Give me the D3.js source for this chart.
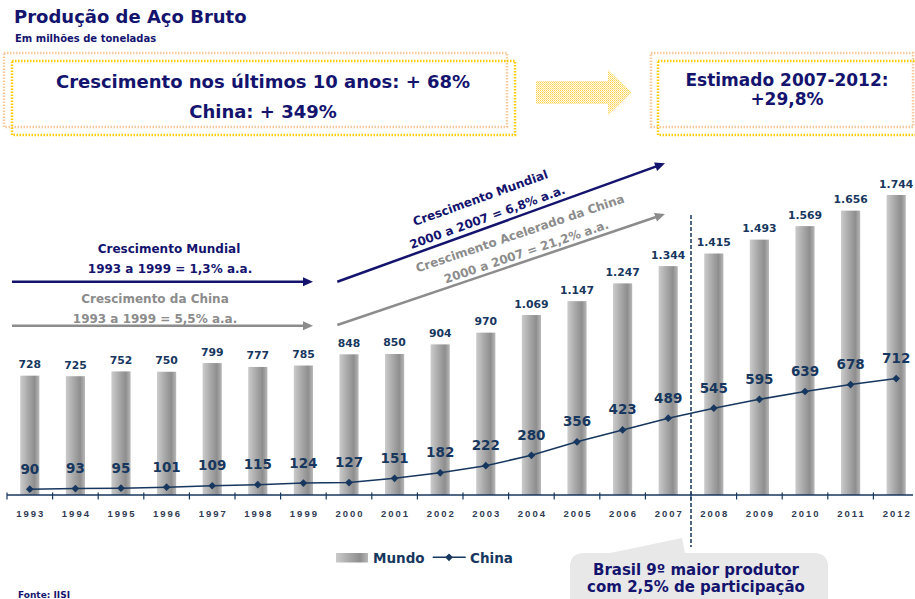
<!DOCTYPE html>
<html>
<head>
<meta charset="utf-8">
<script src="https://cdn.jsdelivr.net/npm/d3@7"></script>
<style>
  html, body { margin: 0; padding: 0; background: #fff; }
  svg { display: block; }
  text { font-family: "DejaVu Sans", Verdana, sans-serif; font-weight: bold; }
</style>
</head>
<body>
<svg id="chart" width="915" height="599"></svg>
<script>
// data
var years = ["1993","1994","1995","1996","1997","1998","1999","2000","2001","2002",
             "2003","2004","2005","2006","2007","2008","2009","2010","2011","2012"];
var mundo = [728,725,752,750,799,777,785,848,850,904,970,1069,1147,1247,1344,1415,1493,1569,1656,1744];
var china = [90,93,95,101,109,115,124,127,151,182,222,280,356,423,489,545,595,639,678,712];
var seriesNames = ["Mundo", "China"];
var forecastFrom = "2008";

var navy = "#14146e";
var steel = "#17375e";
var grey = "#8c8c8c";

var svg = d3.select("#chart");
var defs = svg.append("defs");

// bar gradient
var grad = defs.append("linearGradient").attr("id", "barGrad")
    .attr("x1", "0%").attr("x2", "100%").attr("y1", "0%").attr("y2", "0%");
grad.append("stop").attr("offset", "0%").attr("stop-color", "#cbcbcb");
grad.append("stop").attr("offset", "40%").attr("stop-color", "#a9a9a9");
grad.append("stop").attr("offset", "75%").attr("stop-color", "#8e8e8e");
grad.append("stop").attr("offset", "100%").attr("stop-color", "#b8b8b8");

// dotted fill for the big arrow
var pat = defs.append("pattern").attr("id", "dots")
    .attr("width", 2).attr("height", 2).attr("patternUnits", "userSpaceOnUse");
pat.append("rect").attr("width", 2).attr("height", 2).attr("fill", "#fffbe8");
pat.append("rect").attr("width", 1).attr("height", 1).attr("fill", "#ffd24d");
pat.append("rect").attr("x", 1).attr("y", 1).attr("width", 1).attr("height", 1).attr("fill", "#ffe08a");

//-------------------------------
// header
svg.append("text").attr("x", 14).attr("y", 23).attr("font-size", 18).attr("fill", navy)
    .text("Produção de Aço Bruto");
svg.append("text").attr("x", 15).attr("y", 42).attr("font-size", 10).attr("fill", navy)
    .text("Em milhões de toneladas");

function dottedBox(x, y, w, h, color) {
  svg.append("rect").attr("x", x).attr("y", y).attr("width", w).attr("height", h)
      .attr("fill", "none").attr("stroke", color).attr("stroke-width", 2.5)
      .attr("stroke-dasharray", "1.5 1.5");
}
dottedBox(4, 53, 503, 74, "#f9c99e");
dottedBox(12, 61, 503, 74, "#ffcc00");
dottedBox(651, 53, 262, 74, "#f9c99e");
dottedBox(658, 61, 275, 74, "#ffcc00");

svg.append("text").attr("x", 263).attr("y", 88).attr("text-anchor", "middle")
    .attr("font-size", 18).attr("fill", navy).text("Crescimento nos últimos 10 anos: + 68%");
svg.append("text").attr("x", 263).attr("y", 118).attr("text-anchor", "middle")
    .attr("font-size", 18).attr("fill", navy).text("China: + 349%");
svg.append("text").attr("x", 787).attr("y", 86).attr("text-anchor", "middle")
    .attr("font-size", 17).attr("fill", navy).text("Estimado 2007-2012:");
svg.append("text").attr("x", 787).attr("y", 104.5).attr("text-anchor", "middle")
    .attr("font-size", 17).attr("fill", navy).text("+29,8%");

svg.append("path")
    .attr("d", "M536,81L608,81L608,70L632,92.5L608,115L608,104L536,104Z")
    .attr("fill", "url(#dots)");

//-------------------------------
// scales
var x = d3.scaleBand().domain(years).range([7, 919]).paddingInner(0).paddingOuter(0);
var axisY = 495;
var y = d3.scaleLinear().domain([57, 1744]).range([axisY, 195]);
var barW = x.bandwidth() * 0.42;
var fmt = d3.formatLocale({decimal: ",", thousands: ".", grouping: [3], currency: ["", ""]}).format(",d");

// bars
var rows = years.map(function(yr, i) { return {year: yr, mundo: mundo[i], china: china[i]}; });

svg.append("g").selectAll("rect").data(rows).enter().append("rect")
    .attr("x", function(d) { return x(d.year) + (x.bandwidth() - barW) / 2; })
    .attr("y", function(d) { return y(d.mundo); })
    .attr("width", barW)
    .attr("height", function(d) { return axisY - y(d.mundo); })
    .attr("fill", "url(#barGrad)");

svg.append("g").selectAll("text").data(rows).enter().append("text")
    .attr("x", function(d) { return x(d.year) + x.bandwidth() / 2; })
    .attr("y", function(d) { return y(d.mundo) - 7.5; })
    .attr("text-anchor", "middle").attr("font-size", 10.8).attr("fill", steel)
    .text(function(d) { return fmt(d.mundo); });

// x axis
var axis = svg.append("g");
axis.append("line").attr("x1", 7).attr("x2", 913).attr("y1", axisY).attr("y2", axisY)
    .attr("stroke", steel).attr("stroke-width", 1.5);
var bounds = d3.range(years.length + 1).map(function(i) { return 7 + i * x.step(); });
axis.selectAll(".tk").data(bounds).enter().append("line")
    .attr("x1", function(d) { return d; }).attr("x2", function(d) { return d; })
    .attr("y1", axisY - 2.5).attr("y2", axisY + 4.5)
    .attr("stroke", steel).attr("stroke-width", 1.2);
axis.selectAll(".yl").data(years).enter().append("text")
    .attr("x", function(d) { return x(d) + x.bandwidth() / 2 + 1; })
    .attr("y", 517)
    .attr("text-anchor", "middle")
    .style("font-family", "'Liberation Sans', Arial, sans-serif")
    .style("letter-spacing", "2px")
    .attr("font-size", 9.5).attr("fill", "#2f3b52")
    .text(function(d) { return d; });

// dashed divider between real and estimated
var divX = x(forecastFrom);
svg.append("line").attr("x1", divX).attr("x2", divX).attr("y1", 215).attr("y2", 547)
    .attr("stroke", steel).attr("stroke-width", 1.5).attr("stroke-dasharray", "4 2");

// china line
var line = d3.line()
    .x(function(d) { return x(d.year) + x.bandwidth() / 2; })
    .y(function(d) { return y(d.china); });
svg.append("path").datum(rows).attr("d", line)
    .attr("fill", "none").attr("stroke", steel).attr("stroke-width", 1.5);

var diamond = d3.symbol().type(d3.symbolSquare).size(30);
svg.append("g").selectAll("path").data(rows).enter().append("path")
    .attr("d", diamond)
    .attr("transform", function(d) {
      return "translate(" + (x(d.year) + x.bandwidth() / 2) + "," + y(d.china) + ") rotate(45)";
    })
    .attr("fill", steel);

svg.append("g").selectAll("text").data(rows).enter().append("text")
    .attr("x", function(d) { return x(d.year) + x.bandwidth() / 2; })
    .attr("y", function(d) { return y(d.china) - 15.5; })
    .attr("text-anchor", "middle").attr("font-size", 13.5).attr("fill", steel)
    .text(function(d) { return d.china; });

//-------------------------------
// growth arrows
function arrow(x1, y1, x2, y2, color) {
  var ang = Math.atan2(y2 - y1, x2 - x1);
  var ca = Math.cos(ang), sa = Math.sin(ang);
  svg.append("line").attr("x1", x1).attr("y1", y1)
      .attr("x2", x2 - 7 * ca).attr("y2", y2 - 7 * sa)
      .attr("stroke", color).attr("stroke-width", 2.5);
  var bx = x2 - 10 * ca, by = y2 - 10 * sa;
  svg.append("path")
      .attr("d", "M" + x2 + "," + y2 + "L" + (bx - 4.5 * sa) + "," + (by + 4.5 * ca) +
                 "L" + (bx + 4.5 * sa) + "," + (by - 4.5 * ca) + "Z")
      .attr("fill", color);
  return ang * 180 / Math.PI;
}

function label(x0, y0, ang, along, lines, color) {
  var g = svg.append("g").attr("transform", "translate(" + x0 + "," + y0 + ") rotate(" + ang + ")");
  lines.forEach(function(l) {
    g.append("text").attr("x", along).attr("y", l[1]).attr("text-anchor", "middle")
        .attr("font-size", 12).attr("fill", color).text(l[0]);
  });
}

arrow(12, 281.7, 313, 281.7, navy);
arrow(12, 325.7, 313, 325.7, grey);
svg.append("text").attr("x", 169).attr("y", 252.7).attr("text-anchor", "middle")
    .attr("font-size", 12).attr("fill", navy).text("Crescimento Mundial");
svg.append("text").attr("x", 170).attr("y", 272.7).attr("text-anchor", "middle")
    .attr("font-size", 12).attr("fill", navy).text("1993 a 1999 = 1,3% a.a.");
svg.append("text").attr("x", 155).attr("y", 302.7).attr("text-anchor", "middle")
    .attr("font-size", 12).attr("fill", grey).text("Crescimento da China");
svg.append("text").attr("x", 155).attr("y", 322.7).attr("text-anchor", "middle")
    .attr("font-size", 12).attr("fill", grey).text("1993 a 1999 = 5,5% a.a.");

var a1 = arrow(337.3, 281.7, 665, 163.3, navy);
label(337.3, 281.7, a1, 163, [["Crescimento Mundial", -26], ["2000 a 2007 = 6,8% a.a.", -5.5]], navy);
var a2 = arrow(337.3, 325, 665, 214, grey);
label(337.3, 325, a2, 202.5, [["Crescimento Acelerado da China", -24], ["2000 a 2007 = 21,2% a.a.", -4.5]], grey);

//-------------------------------
// legend
var lg = svg.append("g");
lg.append("rect").attr("x", 336).attr("y", 553).attr("width", 32).attr("height", 9.5)
    .attr("fill", "url(#barGrad)");
lg.append("text").attr("x", 373).attr("y", 562.5).attr("font-size", 13.5).attr("fill", steel)
    .text(seriesNames[0]);
lg.append("line").attr("x1", 432.7).attr("x2", 465.7).attr("y1", 557.3).attr("y2", 557.3)
    .attr("stroke", steel).attr("stroke-width", 1.5);
lg.append("path").attr("d", diamond).attr("transform", "translate(449,557.3) rotate(45)")
    .attr("fill", steel);
lg.append("text").attr("x", 470).attr("y", 562.5).attr("font-size", 13.5).attr("fill", steel)
    .text(seriesNames[1]);

// callout
svg.append("path")
    .attr("d", "M584,553L610,553L682,538L685,553L814,553Q828,553 828,567L828,620L570,620L570,567Q570,553 584,553Z")
    .attr("fill", "#e8e8e8");
svg.append("text").attr("x", 696).attr("y", 575).attr("text-anchor", "middle")
    .attr("font-size", 15).attr("fill", navy).text("Brasil 9º maior produtor");
svg.append("text").attr("x", 696).attr("y", 592).attr("text-anchor", "middle")
    .attr("font-size", 15).attr("fill", navy).text("com 2,5% de participação");

svg.append("text").attr("x", 18).attr("y", 597.5).attr("font-size", 9).attr("fill", navy)
    .text("Fonte: IISI");
</script>
</body>
</html>
